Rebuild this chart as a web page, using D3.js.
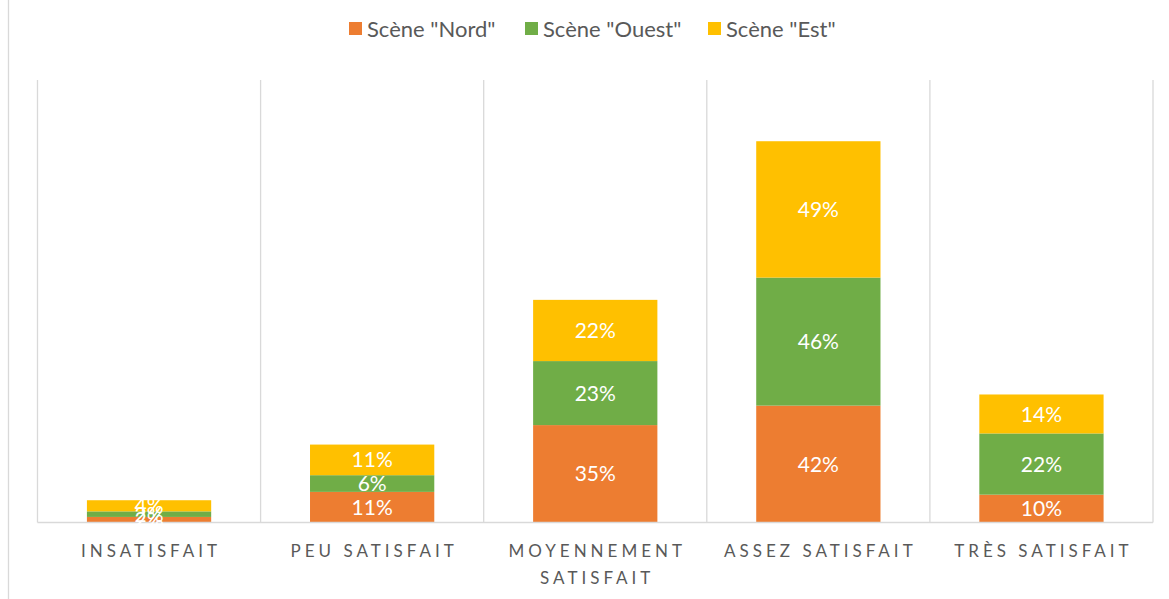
<!DOCTYPE html>
<html><head><meta charset="utf-8">
<script src="https://cdn.jsdelivr.net/npm/d3@7"></script>
<style>body{margin:0;background:#fff}svg{display:block}</style>
</head><body><svg id="chart" width="1169" height="599"></svg>
<script>
// Satisfaction par scène (parts en %)
const categories = ["Insatisfait", "Peu satisfait", "Moyennement satisfait", "Assez satisfait", "Très satisfait"];
const categoryLabels = [["INSATISFAIT"], ["PEU SATISFAIT"], ["MOYENNEMENT", "SATISFAIT"], ["ASSEZ SATISFAIT"], ["TRÈS SATISFAIT"]];
const seriesNames = ['Scène "Nord"', 'Scène "Ouest"', 'Scène "Est"'];
const nord = [2, 11, 35, 42, 10];
const ouest = [2, 6, 23, 46, 22];
const est = [4, 11, 22, 49, 14];
const seriesColors = ["#ED7D31", "#70AD47", "#FFC000"];
const yMax = 159;

const svg = d3.select("#chart");
const W = 1169, H = 599;
const plot = {left: 37.5, right: 1153, top: 80, bottom: 522.5};
const font = "Lato, 'Open Sans', sans-serif";
const grid = "#D9D9D9";
const textGray = "#595959";

const rows = categories.map((c, i) => ({cat: c, nord: nord[i], ouest: ouest[i], est: est[i]}));
const keys = ["nord", "ouest", "est"];
const stacked = d3.stack().keys(keys)(rows);

const x = d3.scaleBand().domain(categories).range([plot.left, plot.right]).padding(0);
const y = d3.scaleLinear().domain([0, yMax]).range([plot.bottom, plot.top]);
const barW = x.bandwidth() * 0.557;

// frame edge on the left
svg.append("line").attr("x1", 8.5).attr("x2", 8.5).attr("y1", 0).attr("y2", H)
  .attr("stroke", grid).attr("stroke-width", 1.3);

// vertical separators between categories
const bounds = categories.map(c => x(c)).concat([plot.right]);
svg.append("g").selectAll("line").data(bounds).join("line")
  .attr("x1", d => d).attr("x2", d => d)
  .attr("y1", plot.top).attr("y2", plot.bottom)
  .attr("stroke", grid).attr("stroke-width", 1.3);

// bars
const gBars = svg.append("g");
stacked.forEach((s, si) => {
  gBars.append("g").attr("fill", seriesColors[si]).selectAll("rect").data(s).join("rect")
    .attr("x", d => x(d.data.cat) + (x.bandwidth() - barW) / 2)
    .attr("width", barW)
    .attr("y", d => y(d[1]))
    .attr("height", d => y(d[0]) - y(d[1]));
});

// baseline
svg.append("line").attr("x1", plot.left).attr("x2", plot.right)
  .attr("y1", plot.bottom).attr("y2", plot.bottom)
  .attr("stroke", grid).attr("stroke-width", 1.3);

// value labels
const gLab = svg.append("g").attr("font-family", font).attr("font-size", 21).attr("fill", "#fff")
  .attr("text-anchor", "middle");
stacked.forEach((s, si) => {
  gLab.append("g").selectAll("text").data(s).join("text")
    .attr("x", d => x(d.data.cat) + x.bandwidth() / 2)
    .attr("y", d => (y(d[0]) + y(d[1])) / 2)
    .attr("dy", "0.36em")
    .text(d => (d[1] - d[0]) + "%");
});

// category axis labels
const axis = d3.axisBottom(x).tickSize(0).tickFormat("");
const gAxis = svg.append("g").attr("transform", `translate(0,${plot.bottom})`).call(axis);
gAxis.select(".domain").remove();
gAxis.selectAll(".tick").each(function(d, i) {
  const t = d3.select(this).append("text")
    .attr("fill", textGray).attr("font-family", font).attr("font-size", 17)
    .attr("letter-spacing", "4px").attr("text-anchor", "middle");
  categoryLabels[i].forEach((line, li) => {
    t.append("tspan").attr("x", 2).attr("y", 34 + li * 27).text(line);
  });
});

// legend
const legendX = [349, 525, 708];
const gLeg = svg.append("g").attr("font-family", font).attr("font-size", 22).attr("fill", textGray);
seriesNames.forEach((n, i) => {
  gLeg.append("rect").attr("x", legendX[i]).attr("y", 22).attr("width", 13).attr("height", 13)
    .attr("fill", seriesColors[i]);
  gLeg.append("text").attr("x", legendX[i] + 18).attr("y", 36.5).text(n);
});
</script>
</body></html>
